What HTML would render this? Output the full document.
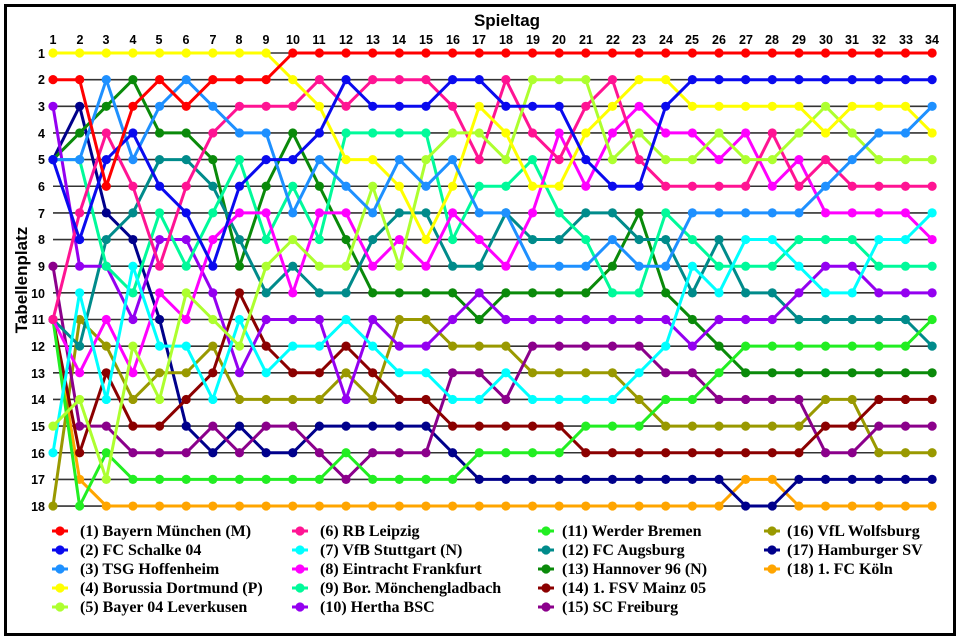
<!DOCTYPE html>
<html><head><meta charset="utf-8"><style>
html,body{margin:0;padding:0;background:#fff;}
svg{display:block;}
.t{font-family:"Liberation Sans",sans-serif;font-weight:bold;font-size:12.5px;fill:#000;}
.lg{font-family:"Liberation Serif",serif;font-weight:bold;font-size:16px;fill:#000;}
</style></head><body>
<svg id="s" width="960" height="640" viewBox="0 0 960 640" xmlns="http://www.w3.org/2000/svg">
<rect x="5.5" y="5.5" width="949" height="629" fill="#fff" stroke="#000" stroke-width="3"/>
<text x="507" y="26" text-anchor="middle" style="font-family:'Liberation Sans',sans-serif;font-weight:bold;font-size:17px">Spieltag</text>
<text transform="translate(27,280) rotate(-90)" text-anchor="middle" style="font-family:'Liberation Sans',sans-serif;font-weight:bold;font-size:17px">Tabellenplatz</text>
<g id="grid"></g>
<g id="ticks" class="t" text-anchor="middle">
<text x="53" y="44">1</text><text x="80" y="44">2</text><text x="106" y="44">3</text><text x="133" y="44">4</text><text x="159" y="44">5</text><text x="186" y="44">6</text><text x="213" y="44">7</text><text x="239" y="44">8</text><text x="266" y="44">9</text><text x="293" y="44">10</text><text x="319" y="44">11</text><text x="346" y="44">12</text><text x="373" y="44">13</text><text x="399" y="44">14</text><text x="426" y="44">15</text><text x="453" y="44">16</text><text x="479" y="44">17</text><text x="506" y="44">18</text><text x="533" y="44">19</text><text x="559" y="44">20</text><text x="586" y="44">21</text><text x="613" y="44">22</text><text x="639" y="44">23</text><text x="666" y="44">24</text><text x="692" y="44">25</text><text x="719" y="44">26</text><text x="746" y="44">27</text><text x="772" y="44">28</text><text x="799" y="44">29</text><text x="826" y="44">30</text><text x="852" y="44">31</text><text x="879" y="44">32</text><text x="906" y="44">33</text><text x="932" y="44">34</text>
</g>
<g class="t" text-anchor="end">
<text x="45" y="58">1</text><text x="45" y="84">2</text><text x="45" y="111">3</text><text x="45" y="138">4</text><text x="45" y="164">5</text><text x="45" y="191">6</text><text x="45" y="218">7</text><text x="45" y="244">8</text><text x="45" y="271">9</text><text x="45" y="298">10</text><text x="45" y="324">11</text><text x="45" y="351">12</text><text x="45" y="378">13</text><text x="45" y="404">14</text><text x="45" y="431">15</text><text x="45" y="458">16</text><text x="45" y="484">17</text><text x="45" y="511">18</text>
</g>
<g id="series"></g>
<g id="legend"></g>
<g class="lg">
<text x="80" y="536">(1) Bayern München (M)</text>
<text x="80" y="555">(2) FC Schalke 04</text>
<text x="80" y="574">(3) TSG Hoffenheim</text>
<text x="80" y="593">(4) Borussia Dortmund (P)</text>
<text x="80" y="612">(5) Bayer 04 Leverkusen</text>
<text x="320" y="536">(6) RB Leipzig</text>
<text x="320" y="555">(7) VfB Stuttgart (N)</text>
<text x="320" y="574">(8) Eintracht Frankfurt</text>
<text x="320" y="593">(9) Bor. Mönchengladbach</text>
<text x="320" y="612">(10) Hertha BSC</text>
<text x="562" y="536">(11) Werder Bremen</text>
<text x="562" y="555">(12) FC Augsburg</text>
<text x="562" y="574">(13) Hannover 96 (N)</text>
<text x="562" y="593">(14) 1. FSV Mainz 05</text>
<text x="562" y="612">(15) SC Freiburg</text>
<text x="787" y="536">(16) VfL Wolfsburg</text>
<text x="787" y="555">(17) Hamburger SV</text>
<text x="787" y="574">(18) 1. FC Köln</text>
</g>
</svg>
<script>
var NS="http://www.w3.org/2000/svg";
function X(d){return 53+(d-1)*26.64;}
function Y(r){return 53+(r-1)*26.65;}
function el(n,a,p){var e=document.createElementNS(NS,n);for(var k in a)e.setAttribute(k,a[k]);p.appendChild(e);return e;}
var g=document.getElementById("grid");
for(var r=1;r<=18;r++)el("line",{x1:53,x2:932,y1:Y(r),y2:Y(r),stroke:"#333","stroke-width":1.6},g);
function R(a,n){var o=[];for(var i=0;i<n;i++)o.push(a);return o;}
var D=[
["#ff0000",[2,2,6,3,2,3,2,2,2].concat(R(1,25))],
["#0a0aee",[5,8,5,4,6,7,9,6,5,5,4,2,3,3,3,2,2,3,3,3,5,6,6,3].concat(R(2,10))],
["#1e90ff",[5,5,2,5,3,2,3,4,4,7,5,6,7,5,6,5,7,7,9,9,9,8,9,9,7,7,7,7,7,6,5,4,4,3]],
["#ffff00",R(1,9).concat([2,3,5,5,6,8,6,3,4,6,6,4,3,2,2,3,3,3,3,3,4,3,3,3,4])],
["#adff2f",[15,14,17,12,14,10,11,12,9,8,9,9,6,9,5,4,4,5,2,2,2,5,4,5,5,4,5,5,4,3,4,5,5,5]],
["#ff1493",[11,7,4,6,9,6,4,3,3,3,2,3,2,2,2,3,5,2,4,5,3,2,5,6,6,6,6,4,6,5,6,6,6,6]],
["#00ffff",[16,10,14,9,12,12,14,11,13,12,12,11,12,13,13,14,14,13,14,14,14,14,13,12,9,10,8,8,9,10,10,8,8,7]],
["#ff00ff",[11,13,11,13,10,11,8,7,7,10,7,7,9,8,9,7,8,9,7,4,6,4,3,4,4,5,4,6,5,7,7,7,7,8]],
["#00fa9a",[5,5,9,10,7,9,7,5,8,6,8,4,4,4,4,8,6,6,5,7,8,10,10,7,8,9,9,9,8,8,8,9,9,9]],
["#9400f0",[3,9,9,11,8,8,10,13,11,11,11,14,11,12,12,11,10,11,11,11,11,11,11,11,12,11,11,11,10,9,9,10,10,10]],
["#22ee22",[11,18,16,17,17,17,17,17,17,17,17,16,17,17,17,17,16,16,16,16,15,15,15,14,14,13,12,12,12,12,12,12,12,11]],
["#008b8b",[11,12,8,7,5,5,6,8,10,9,10,10,8,7,7,9,9,7,8,8,7,7,8,8,10,8,10,10,11,11,11,11,11,12]],
["#0a8a0a",[5,4,3,2,4,4,5,9,6,4,6,8,10,10,10,10,11,10,10,10,10,9,7,10,11,12,13,13,13,13,13,13,13,13]],
["#8b0000",[11,16,13,15,15,14,13,10,12,13,13,12,13,14,14,15,15,15,15,15,16,16,16,16,16,16,16,16,16,15,15,14,14,14]],
["#8b008b",[9,15,15,16,16,16,15,16,15,15,16,17,16,16,16,13,13,14,12,12,12,12,12,13,13,14,14,14,14,16,16,15,15,15]],
["#999900",[18,11,12,14,13,13,12,14,14,14,14,13,14,11,11,12,12,12,13,13,13,13,14,15,15,15,15,15,15,14,14,16,16,16]],
["#00008b",[5,3,7,8,11,15,16,15,16,16,15,15,15,15,15,16,17,17,17,17,17,17,17,17,17,17,18,18,17,17,17,17,17,17]],
["#ffa500",[11,17].concat(R(18,24)).concat([17,17,18,18,18,18,18,18])]
];
var s=document.getElementById("series");
for(var i=D.length-1;i>=0;i--){
 var c=D[i][0],a=D[i][1],p=[];
 for(var d=0;d<a.length;d++)p.push(X(d+1).toFixed(1)+","+Y(a[d]).toFixed(1));
 var gg=el("g",{},s);
 el("polyline",{points:p.join(" "),fill:"none",stroke:c,"stroke-width":3,"stroke-linejoin":"round"},gg);
 for(var d=0;d<a.length;d++)el("circle",{cx:X(d+1),cy:Y(a[d]),r:4.6,fill:c},gg);
}
var L=document.getElementById("legend");
var cols=[60,300,546,772],rows=[531,550,569,588,607];
for(var i=0;i<18;i++){
 var cx=cols[Math.floor(i/5)],cy=rows[i%5];
 el("line",{x1:cx-8,x2:cx+8,y1:cy,y2:cy,stroke:D[i][0],"stroke-width":3},L);
 el("circle",{cx:cx,cy:cy,r:4.6,fill:D[i][0]},L);
}
</script>
</body></html>
